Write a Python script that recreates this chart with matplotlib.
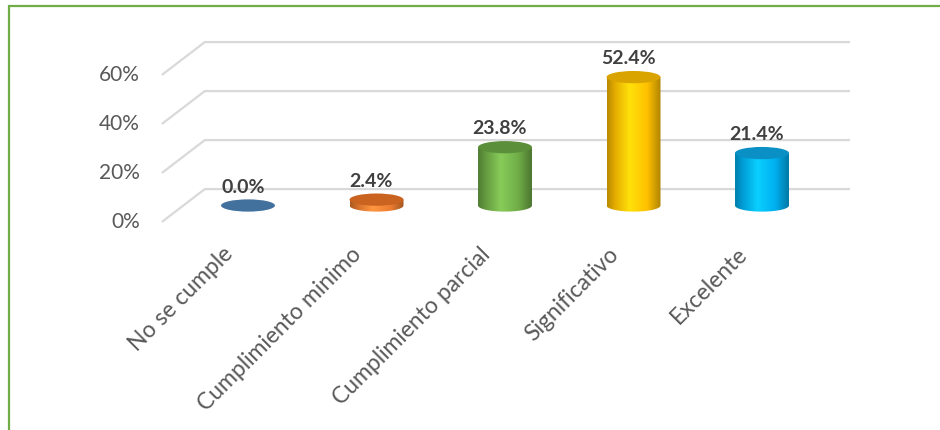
import numpy as np
import matplotlib.pyplot as plt
from matplotlib.patches import Ellipse, Rectangle, Polygon
from matplotlib.colors import LinearSegmentedColormap, to_rgb

categories = ["No se cumple", "Cumplimiento minimo", "Cumplimiento parcial",
              "Significativo", "Excelente"]
values = [0.0, 2.4, 23.8, 52.4, 21.4]
tick_values = [0, 20, 40, 60]
tick_labels = ["0%", "20%", "40%", "60%"]

side_colors = ["#4A7BA8", "#ED7D31", "#70AD47", "#FFC000", "#00B0F0"]
top_colors = ["#41719C", "#C9631F", "#5C8F3A", "#D9A300", "#0A90C4"]

plt.rcParams['font.family'] = ['Lato', 'DejaVu Sans']

W, H = 940, 430
fig = plt.figure(figsize=(W / 100, H / 100), dpi=100)
ax = fig.add_axes([0, 0, 1, 1])
ax.set_axis_off()

# pixel geometry of the fake 3d walls
px_cat = 128.5     # pixels between categories
px_pct = 2.45      # pixels per percent
x0_px = 248        # first category centre
y0_px = 205.5      # zero line, middle depth
depth_x = 0.167    # half depth, category units
depth_y = 6.7      # half depth, percent units

x_left_front = -0.67
x_left_back = x_left_front + 2 * depth_x
x_right_back = 4.685

grid_color = "#D9D9D9"
for v, lab in zip(tick_values, tick_labels):
    ax.plot([x_left_front, x_left_back, x_right_back],
            [v - depth_y, v + depth_y, v + depth_y],
            color=grid_color, lw=1.6, zorder=1, solid_capstyle='butt')
    ax.text(x_left_front - 0.17, v - depth_y, lab, ha='right', va='center',
            fontsize=15, color="#595959")

bw = 0.42      # cylinder width
eh = 5.0       # ellipse height in percent units
t = np.linspace(np.pi, 2 * np.pi, 60)

for i, (v, sc, tc) in enumerate(zip(values, side_colors, top_colors)):
    x = i
    if v > 0:
        base = np.array(to_rgb(sc))
        dark = base * 0.72
        light = np.clip(base * 1.12 + 0.04, 0, 1)
        cmap = LinearSegmentedColormap.from_list(
            "cyl%d" % i, [(0.0, dark), (0.15, base * 0.9), (0.42, light),
                          (0.75, base), (1.0, dark * 0.95)])
        xs = np.concatenate([[x - bw / 2], x + bw / 2 * np.cos(t), [x + bw / 2]])
        ys = np.concatenate([[v], eh / 2 * np.sin(t), [v]])
        body = Polygon(np.column_stack([xs, ys]), closed=True,
                       facecolor='none', edgecolor='none', transform=ax.transData)
        ax.add_patch(body)
        grad = np.linspace(0, 1, 200).reshape(1, -1)
        im = ax.imshow(grad, cmap=cmap, aspect='auto', interpolation='bilinear',
                       extent=[x - bw / 2, x + bw / 2, -eh / 2, v], zorder=2)
        im.set_clip_path(body)
    ax.add_patch(Ellipse((x, v), bw, eh, facecolor=tc, edgecolor='none', zorder=3))
    ax.text(x - 0.04, v + 7.5, "%.1f%%" % v, ha='center', va='center',
            fontsize=14, fontweight='bold', color="#404040", zorder=4)

for i, lab in enumerate(categories):
    ax.text(i - 0.2, -15.5, lab, rotation=45, ha='right', va='top',
            rotation_mode='anchor', fontsize=16.5, color="#595959")

ax.set_xlim(-x0_px / px_cat, (W - x0_px) / px_cat)
ax.set_ylim((y0_px - H) / px_pct, y0_px / px_pct)

# green frame (right and bottom edges fall outside the picture)
fig.add_artist(Rectangle((8.5 / W, -0.1), 1.2, 1.1 - 6.5 / H, transform=fig.transFigure,
                         facecolor='none', edgecolor="#70AD47", lw=1.6))

fig.savefig("out.png", dpi=100)
